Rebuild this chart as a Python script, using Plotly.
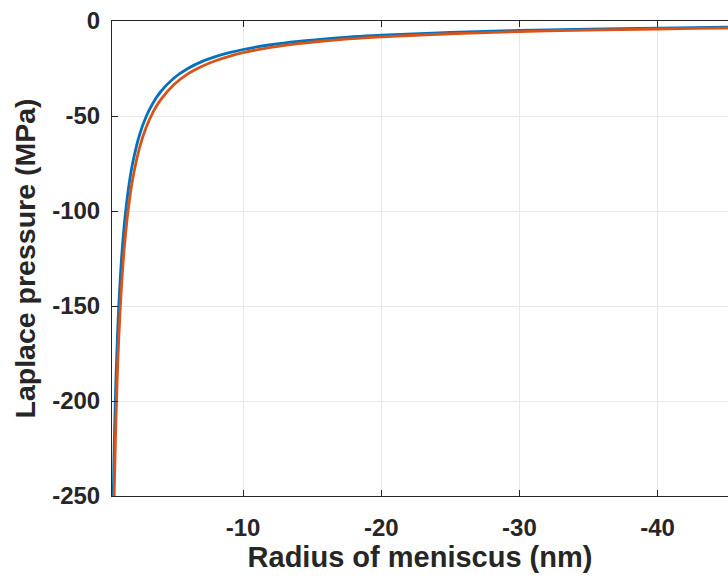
import plotly.graph_objects as go

# Radius of meniscus (nm)
radius_nm = [-0.5, -0.55, -0.6, -0.65, -0.7, -0.8, -0.9, -1.0, -1.2, -1.4, -1.6, -1.8,
             -2.0, -2.5, -3.0, -3.5, -4.0, -5.0, -6.0, -7.0, -8.0, -9.0, -10.0, -12.0,
             -14.0, -16.0, -18.0, -20.0, -25.0, -30.0, -35.0, -40.0, -45.0, -50.0]

# Laplace pressure (MPa), blue series
pressure_blue = [-300, -272.7, -250, -230.8, -214.3, -187.5, -166.7, -150, -125, -107.1,
                 -93.8, -83.3, -75, -60, -50, -42.9, -37.5, -30, -25, -21.4, -18.75,
                 -16.7, -15, -12.5, -10.7, -9.4, -8.3, -7.5, -6, -5, -4.3, -3.75, -3.3, -3.0]

# Laplace pressure (MPa), orange series
pressure_orange = [-334, -303.6, -278.3, -256.9, -238.6, -208.8, -185.6, -167, -139.2, -119.3,
                   -104.4, -92.8, -83.5, -66.8, -55.7, -47.7, -41.8, -33.4, -27.8, -23.9,
                   -20.9, -18.6, -16.7, -13.9, -11.9, -10.4, -9.3, -8.4, -6.7, -5.6, -4.8,
                   -4.2, -3.7, -3.3]

x_ticks = [-10, -20, -30, -40]
y_ticks = [0, -50, -100, -150, -200, -250]

AX = "#262626"
FONT = "Liberation Sans, Arial, sans-serif"

fig = go.Figure()
fig.add_trace(go.Scatter(x=radius_nm, y=pressure_blue, mode="lines",
                         line=dict(color="#0072BD", width=2.8, shape="spline"),
                         showlegend=False))
fig.add_trace(go.Scatter(x=radius_nm, y=pressure_orange, mode="lines",
                         line=dict(color="#D95319", width=2.8, shape="spline"),
                         showlegend=False))

fig.update_layout(
    width=728, height=579,
    margin=dict(l=112, r=0, t=21, b=83),
    plot_bgcolor="white", paper_bgcolor="white",
    font=dict(family=FONT, color=AX),
)
fig.update_xaxes(
    range=[-0.51, -45.1],
    tickvals=x_ticks, ticktext=[str(v) for v in x_ticks],
    ticks="inside", ticklen=6, tickcolor=AX, tickwidth=1,
    showline=True, linecolor=AX, linewidth=1, mirror="ticks",
    showgrid=True, gridcolor="#e8e8e8", gridwidth=1, zeroline=False,
    tickfont=dict(family=FONT, size=24, color=AX, weight="bold"),
    ticklabelstandoff=10,
    title=dict(text="Radius of meniscus (nm)", standoff=6,
               font=dict(family=FONT, size=29, color=AX, weight="bold")),
)
fig.update_yaxes(
    range=[-250, 0],
    tickvals=y_ticks, ticktext=[str(v) for v in y_ticks],
    ticks="inside", ticklen=6, tickcolor=AX, tickwidth=1,
    showline=True, linecolor=AX, linewidth=1, mirror=False,
    showgrid=True, gridcolor="#e8e8e8", gridwidth=1, zeroline=False,
    tickfont=dict(family=FONT, size=24, color=AX, weight="bold"),
    ticklabelstandoff=6,
    title=dict(text="Laplace pressure (MPa)", standoff=8,
               font=dict(family=FONT, size=28.5, color=AX, weight="bold")),
)

fig.write_html("out.html")
